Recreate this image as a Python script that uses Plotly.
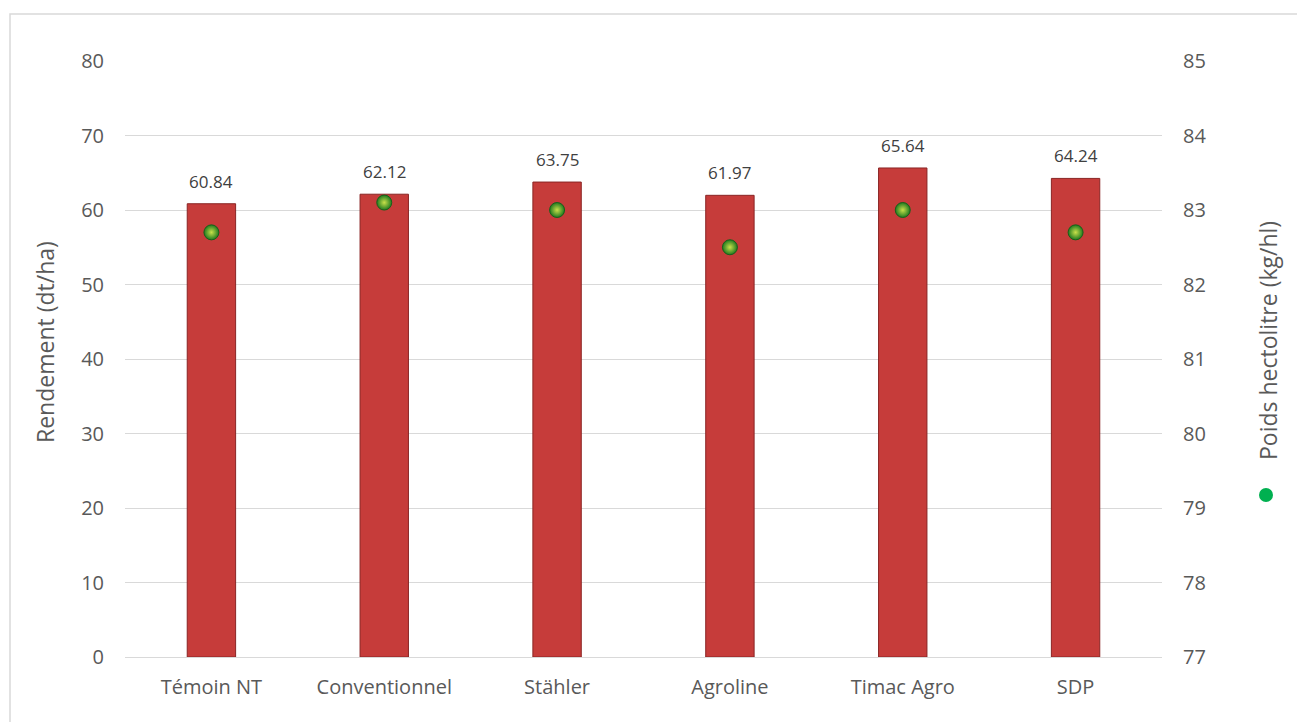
import plotly.graph_objects as go

categories = ["Témoin NT", "Conventionnel", "Stähler", "Agroline", "Timac Agro", "SDP"]
rendement = [60.84, 62.12, 63.75, 61.97, 65.64, 64.24]
poids_hl = [82.7, 83.1, 83.0, 82.5, 83.0, 82.7]

FONT = "Open Sans"
GREY = "#595959"
W, H = 1297, 722
L, R, T, B = 125, 135, 61, 65
PW, PH = W - L - R, H - T - B


def px(x):
    return (x - L) / PW


def py(y):
    return (H - B - y) / PH


fig = go.Figure()
fig.add_trace(go.Bar(
    x=categories, y=rendement, width=0.28,
    marker=dict(color="#c63c3a", line=dict(color="#8a2524", width=1)),
    name="Rendement", showlegend=False,
))
fig.add_trace(go.Scatter(
    x=categories, y=poids_hl, yaxis="y2", mode="markers",
    marker=dict(size=15, color="#1f7a1f",
                gradient=dict(type="radial", color="#c8e04a"),
                line=dict(color="#196019", width=1)),
    name="Poids hectolitre", showlegend=False,
))

annotations = [
    dict(x=c, y=v, xref="x", yref="y", text=f"{v:.2f}", showarrow=False,
         yanchor="bottom", yshift=9, font=dict(family=FONT, size=17, color="#404040"))
    for c, v in zip(categories, rendement)
]
annotations += [
    dict(text="Rendement (dt/ha)", textangle=-90, xref="paper", yref="paper",
         x=px(45), y=py(342), xanchor="center", yanchor="middle", showarrow=False,
         font=dict(family=FONT, size=23, color=GREY)),
    dict(text="Poids hectolitre (kg/hl)", textangle=-90, xref="paper", yref="paper",
         x=px(1268), y=py(341), xanchor="center", yanchor="middle", showarrow=False,
         font=dict(family=FONT, size=23, color=GREY)),
]

fig.update_layout(
    width=W, height=H,
    margin=dict(l=L, r=R, t=T, b=B),
    paper_bgcolor="white", plot_bgcolor="white",
    font=dict(family=FONT, size=20, color=GREY),
    xaxis=dict(showgrid=False, showline=False, zeroline=False, ticks="",
               tickfont=dict(size=20, color=GREY), ticklabelstandoff=16),
    yaxis=dict(range=[0, 80], dtick=10, showgrid=True, gridcolor="#d9d9d9",
               gridwidth=1, zeroline=True, zerolinecolor="#d9d9d9", zerolinewidth=1,
               showline=False, ticks="", tickfont=dict(size=20, color=GREY),
               ticklabelstandoff=20),
    yaxis2=dict(range=[77, 85], dtick=1, overlaying="y", side="right",
                showgrid=False, zeroline=False, showline=False, ticks="",
                tickfont=dict(size=20, color=GREY), ticklabelstandoff=20),
    shapes=[
        dict(type="rect", xref="paper", yref="paper",
             x0=px(10), x1=1.3, y0=-0.3, y1=py(14),
             line=dict(color="#d9d9d9", width=1.5), fillcolor="rgba(0,0,0,0)",
             layer="below"),
        dict(type="circle", xref="paper", yref="paper",
             x0=px(1259), x1=px(1273), y0=py(502), y1=py(488),
             line=dict(width=0), fillcolor="#00b050"),
    ],
    annotations=annotations,
)

fig.write_html("out.html")
